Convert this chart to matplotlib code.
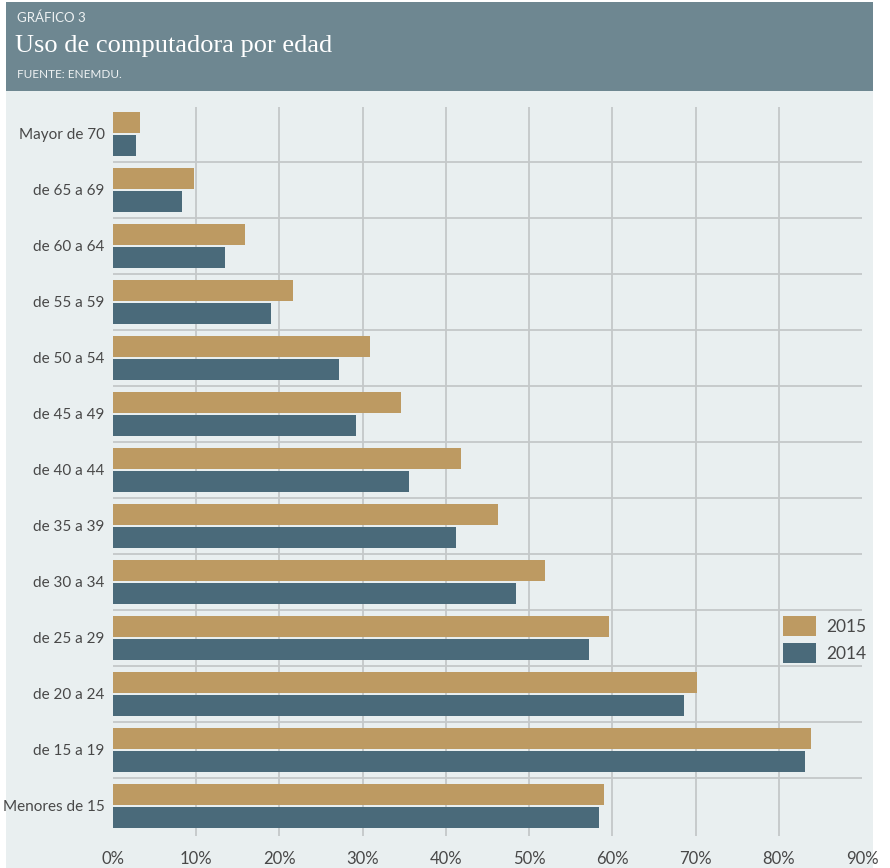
import numpy as np
import matplotlib.pyplot as plt
from matplotlib.patches import Rectangle

categories = ['Mayor de 70', 'de 65 a 69', 'de 60 a 64', 'de 55 a 59', 'de 50 a 54',
              'de 45 a 49', 'de 40 a 44', 'de 35 a 39', 'de 30 a 34', 'de 25 a 29',
              'de 20 a 24', 'de 15 a 19', 'Menores de 15']
v2015 = [3.2, 9.7, 15.9, 21.6, 30.9, 34.6, 41.8, 46.3, 51.9, 59.6, 70.2, 83.9, 59.0]
v2014 = [2.8, 8.3, 13.5, 19.0, 27.2, 29.2, 35.6, 41.2, 48.4, 57.2, 68.6, 83.1, 58.4]
xticks = [0, 10, 20, 30, 40, 50, 60, 70, 80, 90]

W, H = 890, 868
fig = plt.figure(figsize=(W / 100, H / 100), dpi=100, facecolor='white')

# header and body panels
fig.patches.append(Rectangle((6 / W, 1 - 91 / H), 867 / W, 89 / H, transform=fig.transFigure,
                             facecolor='#6e8791', edgecolor='none', zorder=-10))
fig.patches.append(Rectangle((6 / W, 0), 867 / W, 1 - 91 / H, transform=fig.transFigure,
                             facecolor='#e9eff0', edgecolor='none', zorder=-10))

fig.text(17 / W, 1 - 18 / H, 'GRÁFICO 3', color='#eef2f3', fontsize=9.5,
         family='Lato', va='center', ha='left')
fig.text(15 / W, 1 - 46 / H, 'Uso de computadora por edad', color='white', fontsize=19,
         family='Liberation Serif', va='center', ha='left')
fig.text(17 / W, 1 - 75 / H, 'FUENTE: ENEMDU.', color='#eef2f3', fontsize=8.5,
         family='Lato', va='center', ha='left')

ax = fig.add_axes([113 / W, 1 - 836 / H, 749 / W, 729 / H])
ax.set_facecolor('none')
ax.set_zorder(1)

y = np.arange(len(categories))
h = 0.375
ax.barh(y - 0.2, v2015, height=h, color='#bd9a62', label='2015', zorder=3)
ax.barh(y + 0.205, v2014, height=h, color='#4a6a7a', label='2014', zorder=3)

ax.set_xlim(0, 90)
ax.set_ylim(len(categories) - 1 + 0.54, -0.48)

for xv in xticks[1:-1]:
    ax.axvline(xv, color='#c4c8c9', lw=1.3, zorder=1)
for k in range(len(categories) - 1):
    ax.axhline(k + 0.5, color='#c4c8c9', lw=1.3, zorder=1)

ax.set_yticks(y)
ax.set_yticklabels(categories)
ax.set_xticks(xticks)
ax.set_xticklabels(['%d%%' % v for v in xticks])
ax.tick_params(axis='both', length=0, labelcolor='#484848')
ax.tick_params(axis='y', pad=6, labelsize=11)
ax.tick_params(axis='x', pad=11, labelsize=12)
for lab in ax.get_xticklabels() + ax.get_yticklabels():
    lab.set_family('Lato')
for s in ax.spines.values():
    s.set_visible(False)

leg = ax.legend(loc='upper left', bbox_to_anchor=(0.894, 0.302), frameon=False,
                prop={'family': 'Lato', 'size': 12.5}, borderpad=0, borderaxespad=0,
                handlelength=1.9, handleheight=1.45, handletextpad=0.6, labelspacing=0.35)
for t in leg.get_texts():
    t.set_color('#484848')

fig.savefig('out.png', dpi=100, facecolor='white')
